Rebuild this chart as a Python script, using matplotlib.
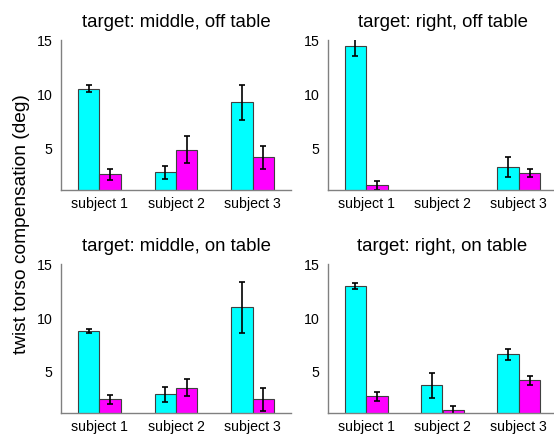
import numpy as np
import matplotlib
matplotlib.use("Agg")
import matplotlib.pyplot as plt

plt.rcParams['font.family'] = ['Liberation Sans', 'DejaVu Sans']

subjects = ["subject 1", "subject 2", "subject 3"]
titles = ["target: middle, off table", "target: right, off table",
          "target: middle, on table", "target: right, on table"]

# cyan series (first condition) and magenta series (second condition)
cyan_vals = [
    [10.45, 2.7, 9.2],
    [14.4, np.nan, 3.2],
    [8.7, 2.8, 10.95],
    [12.95, 3.65, 6.55],
]
cyan_err = [
    [0.33, 0.6, 1.65],
    [0.85, np.nan, 0.95],
    [0.2, 0.72, 2.4],
    [0.3, 1.15, 0.5],
]
magenta_vals = [
    [2.5, 4.8, 4.1],
    [1.5, np.nan, 2.62],
    [2.35, 3.4, 2.35],
    [2.6, 1.32, 4.12],
]
magenta_err = [
    [0.5, 1.25, 1.07],
    [0.4, np.nan, 0.4],
    [0.42, 0.8, 1.07],
    [0.42, 0.4, 0.4],
]

W, H = 554, 439
fig = plt.figure(figsize=(W / 100, H / 100), dpi=100)

# panel rectangles in pixels: left, right, top, bottom
rects = [
    (61, 291, 41, 190.5),
    (328, 557, 41, 190.5),
    (61, 291, 265, 413.5),
    (328, 557, 265, 413.5),
]

x = np.arange(1, 4)
bw = 0.28
for i, (l, r, t, b) in enumerate(rects):
    ax = fig.add_axes([l / W, (H - b) / H, (r - l) / W, (b - t) / H])
    ax.bar(x - bw / 2, cyan_vals[i], bw, color="#00ffff", edgecolor="#404040", linewidth=0.8)
    ax.bar(x + bw / 2, magenta_vals[i], bw, color="#ff00ff", edgecolor="#404040", linewidth=0.8)
    ax.errorbar(x - bw / 2, cyan_vals[i], yerr=cyan_err[i], fmt="none", ecolor="black",
                elinewidth=1.2, capsize=2.5, capthick=1.2)
    ax.errorbar(x + bw / 2, magenta_vals[i], yerr=magenta_err[i], fmt="none", ecolor="black",
                elinewidth=1.2, capsize=2.5, capthick=1.2)
    ax.set_xlim(0.5, 3.5)
    ax.set_ylim(1.1, 15)
    ax.set_yticks([5, 10, 15])
    ax.set_xticks(x)
    ax.set_xticklabels(subjects)
    for s in ["top", "right"]:
        ax.spines[s].set_visible(False)
    for s in ["left", "bottom"]:
        ax.spines[s].set_color("#808080")
        ax.spines[s].set_linewidth(1.0)
    ax.tick_params(length=0, labelsize=10.2)
    ax.tick_params(axis="y", pad=6)
    ax.tick_params(axis="x", pad=5)
    ax.set_title(titles[i], fontsize=13.4, pad=10)

fig.text(22 / W, 1 - 224 / H, "twist torso compensation (deg)", rotation=90,
         ha="center", va="center", fontsize=13.8)

fig.savefig("out.png", dpi=100)
